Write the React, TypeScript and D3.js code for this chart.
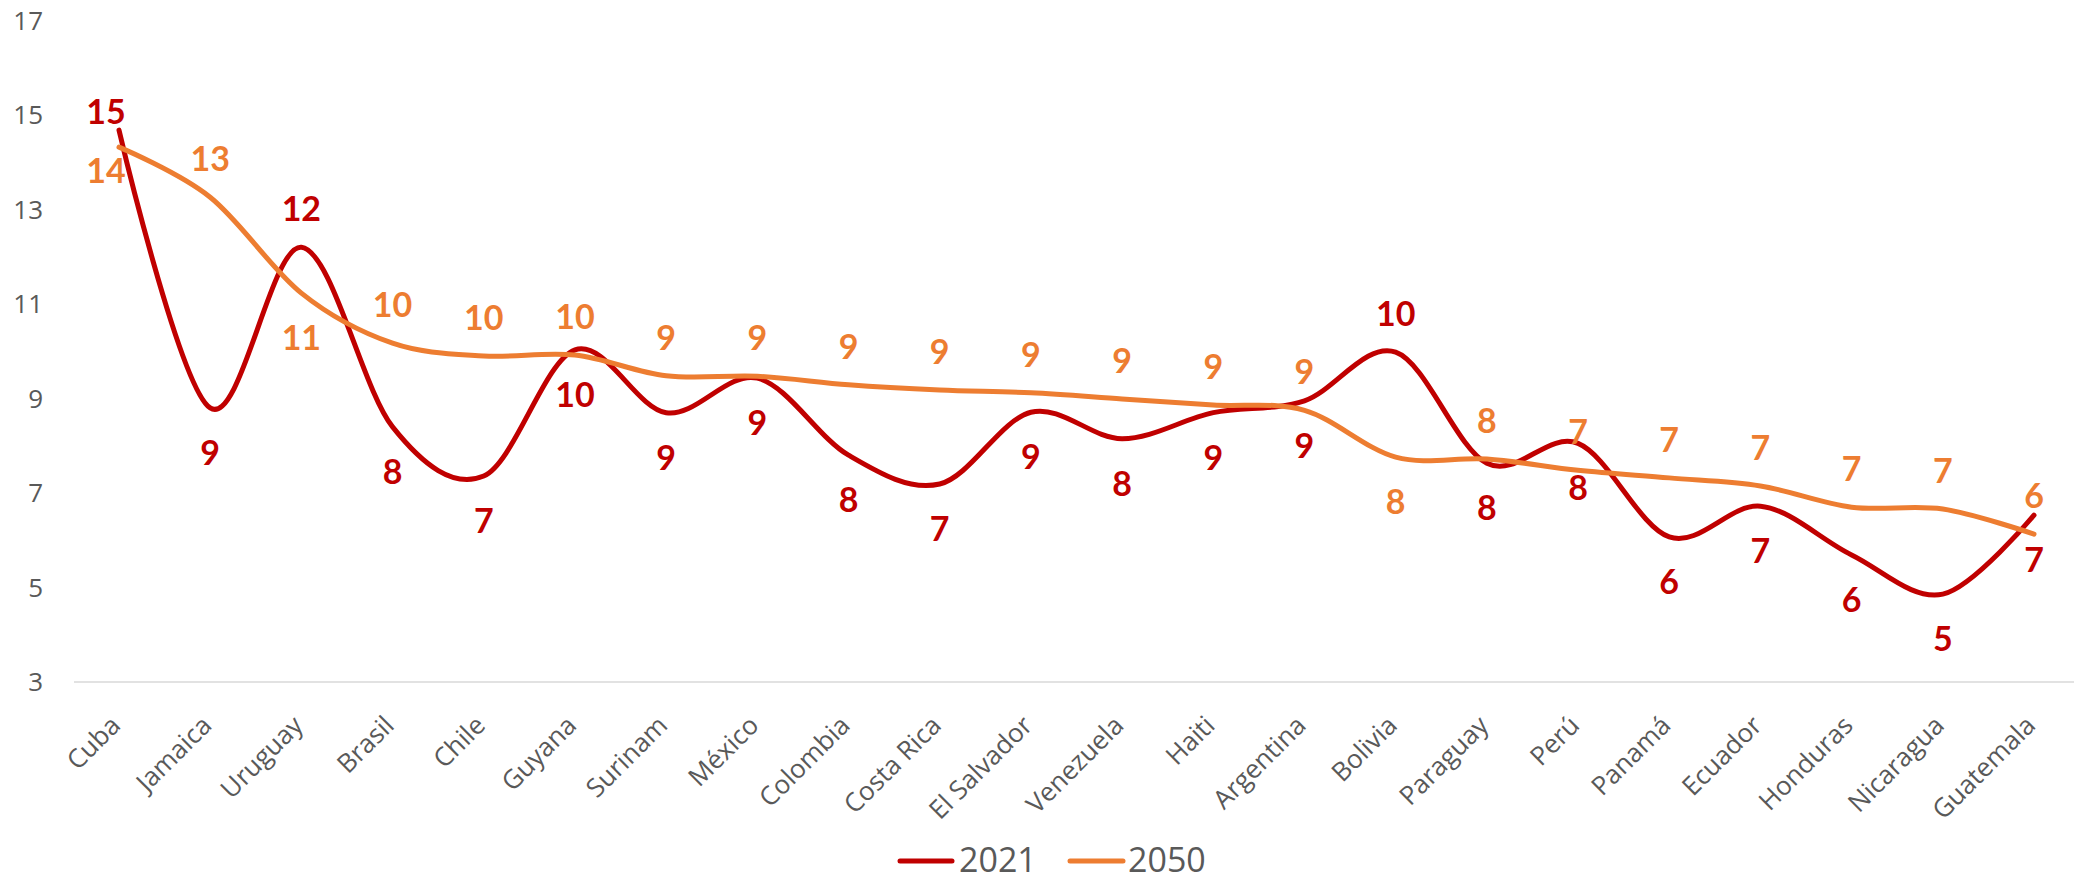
import React from 'react';
import * as d3 from 'd3';

const categories = [
  'Cuba', 'Jamaica', 'Uruguay', 'Brasil', 'Chile', 'Guyana', 'Surinam', 'México',
  'Colombia', 'Costa Rica', 'El Salvador', 'Venezuela', 'Haiti', 'Argentina', 'Bolivia',
  'Paraguay', 'Perú', 'Panamá', 'Ecuador', 'Honduras', 'Nicaragua', 'Guatemala',
];

const values2021 = [
  14.68, 8.8, 12.2, 8.4, 7.36, 10.03, 8.7, 9.43, 7.8, 7.19, 8.71,
  8.15, 8.7, 8.95, 9.98, 7.63, 8.05, 6.07, 6.72, 5.69, 4.86, 6.53,
];

const values2050 = [
  14.32, 13.26, 11.23, 10.17, 9.9, 9.92, 9.48, 9.47, 9.29, 9.18, 9.12,
  8.99, 8.86, 8.75, 7.76, 7.72, 7.48, 7.32, 7.15, 6.7, 6.66, 6.13,
];

const yTicks = [3, 5, 7, 9, 11, 13, 15, 17];

// countries where the 2021 label sits above the line (and 2050 goes below)
const above2021 = ['Cuba', 'Uruguay', 'Bolivia'];

const RED = '#C00000';
const ORANGE = '#ED7D31';
const GREY = '#595959';

const W = 2074;
const H = 882;

const x = d3.scalePoint<string>().domain(categories).range([119, 2034]);
const y = d3.scaleLinear().domain([3, 17]).range([682, 20.5]);

const line = d3
  .line<number>()
  .x((_, i) => x(categories[i]) as number)
  .y((d) => y(d))
  .curve(d3.curveCardinal.tension(0));

const series = [
  { name: '2021', values: values2021, color: RED },
  { name: '2050', values: values2050, color: ORANGE },
];

// label baseline relative to the point
function labelPos(c: string, up: boolean, px: number, py: number) {
  if (c === 'Cuba') {
    // first labels were nudged to the left, close to the start of the lines
    return up ? { lx: px - 13, ly: py - 6 } : { lx: px - 13, ly: py + 36 };
  }
  return { lx: px, ly: up ? py - 26 : py + 57 };
}

const App = () => {
  return (
    <svg
      width={W}
      height={H}
      style={{ position: 'absolute', left: 0, top: 0, background: '#fff' }}
    >
      {/* baseline */}
      <line x1={74} x2={W} y1={y(3)} y2={y(3)} stroke="#D9D9D9" strokeWidth={1.5} />

      {/* y tick labels */}
      {yTicks.map((t) => (
        <text
          key={t}
          x={43}
          y={y(t)}
          dy="0.35em"
          textAnchor="end"
          fontFamily="'Open Sans', sans-serif"
          fontSize={26}
          fill={GREY}
        >
          {t}
        </text>
      ))}

      {/* x tick labels */}
      {categories.map((c) => (
        <text
          key={c}
          transform={`translate(${(x(c) as number) + 3},${727}) rotate(-45)`}
          textAnchor="end"
          fontFamily="'Open Sans', sans-serif"
          fontSize={26}
          fill={GREY}
        >
          {c}
        </text>
      ))}

      {/* lines */}
      {series.map((s) => (
        <path
          key={s.name}
          d={line(s.values) || ''}
          fill="none"
          stroke={s.color}
          strokeWidth={5}
          strokeLinecap="round"
          strokeLinejoin="round"
        />
      ))}

      {/* data labels */}
      {series.map((s) =>
        s.values.map((v, i) => {
          const c = categories[i];
          const isUp = above2021.includes(c);
          const up = s.name === '2021' ? isUp : !isUp;
          const { lx, ly } = labelPos(c, up, x(c) as number, y(v));
          return (
            <text
              key={s.name + c}
              x={lx}
              y={ly}
              textAnchor="middle"
              fontFamily="Lato, sans-serif"
              fontWeight="bold"
              fontSize={34}
              fill={s.color}
            >
              {Math.round(v)}
            </text>
          );
        })
      )}

      {/* legend */}
      <g fontFamily="'Open Sans', sans-serif" fontSize={34} fill={GREY}>
        <line x1={900} x2={952} y1={861} y2={861} stroke={RED} strokeWidth={5} strokeLinecap="round" />
        <text x={959} y={872}>2021</text>
        <line x1={1070} x2={1123} y1={861} y2={861} stroke={ORANGE} strokeWidth={5} strokeLinecap="round" />
        <text x={1128} y={872}>2050</text>
      </g>
    </svg>
  );
};

export default App;
